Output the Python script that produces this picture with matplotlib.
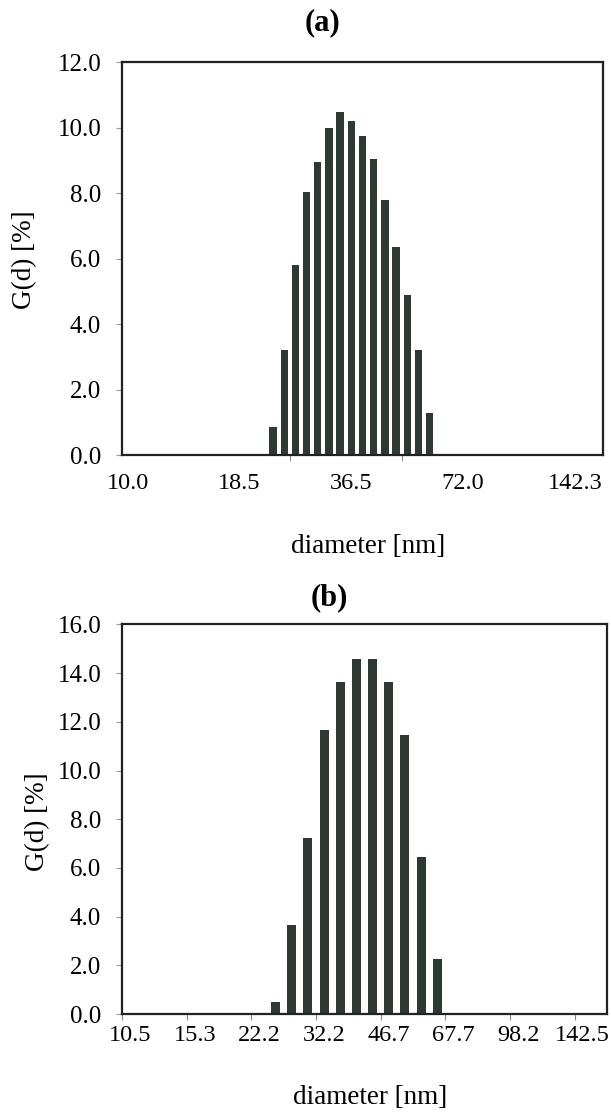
import numpy as np
import matplotlib
matplotlib.use("Agg")
import matplotlib.pyplot as plt

plt.rcParams['font.family'] = ['Liberation Serif', 'DejaVu Serif']

# panel (a) - size distribution, 43 log-spaced diameter classes
a_ncat = 43
a_first = 13
a_values = [0.85, 3.2, 5.8, 8.05, 8.95, 10.0, 10.5, 10.2, 9.75, 9.05, 7.8, 6.35, 4.9, 3.2, 1.3]
a_label_cats = [0, 10, 20, 30, 40]
a_labels = ["10.0", "18.5", "36.5", "72.0", "142.3"]
a_mark_cats = [15, 25]

# panel (b) - 30 classes
b_ncat = 30
b_first = 9
b_values = [0.5, 3.65, 7.25, 11.65, 13.65, 14.6, 14.6, 13.65, 11.45, 6.45, 2.25]
b_label_cats = [0, 4, 8, 12, 16, 20, 24, 28]
b_labels = ["10.5", "15.3", "22.2", "32.2", "46.7", "67.7", "98.2", "142.5"]
b_mark_cats = [0, 4, 8, 12, 16, 20, 24, 28]

bar_color = "#2f3934"

fig = plt.figure(figsize=(6.11, 11.12), dpi=100)
ax_a = fig.add_axes([0.1997, 0.5908, 0.7872, 0.3530])
ax_b = fig.add_axes([0.1997, 0.0881, 0.7938, 0.3503])


def draw_panel(ax, ncat, first, values, label_cats, labels, mark_cats, ymax, width, xpad):
    x = np.arange(first, first + len(values))
    ax.bar(x, values, width=width, color=bar_color, edgecolor="none", zorder=2)
    ax.set_xlim(-0.5, ncat - 0.5)
    ax.set_ylim(0, ymax)
    ax.set_xticks(label_cats)
    ax.set_xticklabels(labels)
    ax.set_xticks([c - 0.5 for c in mark_cats], minor=True)
    ax.tick_params(axis="x", which="major", length=0, pad=xpad, labelsize=17.5)
    ax.tick_params(axis="x", which="minor", direction="out", length=4, width=0.8, color="#888888")
    ax.set_yticks(np.arange(0, ymax + 0.1, 2.0))
    ax.set_yticklabels(["%.1f" % v for v in np.arange(0, ymax + 0.1, 2.0)])
    ax.tick_params(axis="y", direction="out", length=4, width=0.8, color="#999999", pad=11, labelsize=18)
    for s in ax.spines.values():
        s.set_linewidth(1.6)
        s.set_color("#222222")


draw_panel(ax_a, a_ncat, a_first, a_values, a_label_cats, a_labels, a_mark_cats, 12.0, 0.65, 13)
draw_panel(ax_b, b_ncat, b_first, b_values, b_label_cats, b_labels, b_mark_cats, 16.0, 0.55, 8)

# titles and axis labels
fig.text(322 / 611, 1 - 23 / 1112, "(a)", ha="center", va="center", fontsize=22, fontweight="bold")
fig.text(329 / 611, 1 - 598 / 1112, "(b)", ha="center", va="center", fontsize=22, fontweight="bold")
fig.text(368 / 611, 1 - 546 / 1112, "diameter [nm]", ha="center", va="center", fontsize=19.5)
fig.text(370 / 611, 1 - 1097 / 1112, "diameter [nm]", ha="center", va="center", fontsize=19.5)
fig.text(25 / 611, 1 - 260 / 1112, "G(d) [%]", ha="center", va="center", rotation=90, fontsize=19.5)
fig.text(38 / 611, 1 - 822 / 1112, "G(d) [%]", ha="center", va="center", rotation=90, fontsize=19.5)

fig.savefig("out.png", dpi=100)
